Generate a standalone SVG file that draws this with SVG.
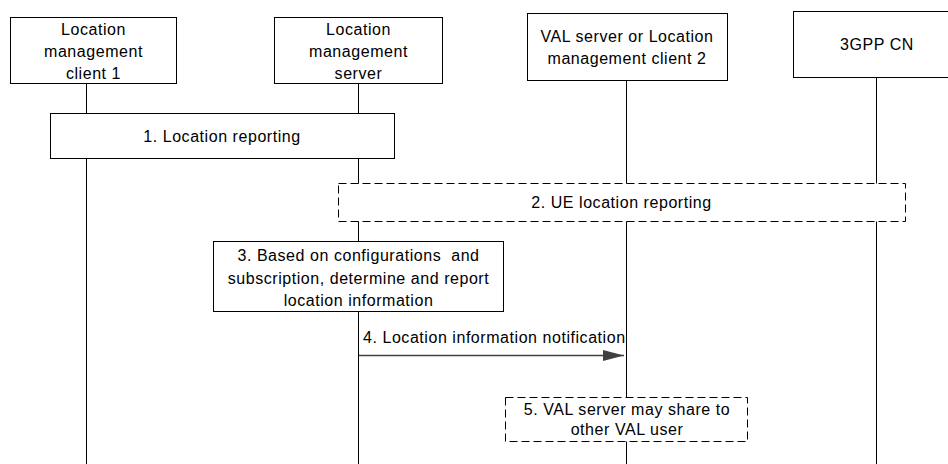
<svg xmlns="http://www.w3.org/2000/svg" width="948" height="464" viewBox="0 0 948 464">
<style>
  .box { fill: #ffffff; stroke: #000000; stroke-width: 1; }
  .dash { fill: #ffffff; stroke: #000000; stroke-width: 1; stroke-dasharray: 8 4; }
  .life { stroke: #000000; stroke-width: 1; fill: none; }
  .msg { stroke: #404040; stroke-width: 1.3; fill: none; }
  text { font-family: "Liberation Sans", Arial, sans-serif; font-size: 16px; letter-spacing: 0.55px; fill: #000000; white-space: pre; }
  .c { text-anchor: middle; }
</style>
<defs>
  <marker id="arrow" markerWidth="22" markerHeight="12" refX="21" refY="6" orient="auto" markerUnits="userSpaceOnUse">
    <polygon points="0,0.5 21,6 0,11.5" fill="#404040"/>
  </marker>
</defs>
<rect width="948" height="464" fill="#ffffff"/>

<g id="lifelines">
  <line class="life" x1="86.5" y1="83" x2="86.5" y2="464"/>
  <line class="life" x1="358.5" y1="83" x2="358.5" y2="464"/>
  <line class="life" x1="626.5" y1="80" x2="626.5" y2="464"/>
  <line class="life" x1="876.5" y1="77" x2="876.5" y2="464"/>
</g>

<g id="node-lmc1">
  <rect class="box" x="10.5" y="17.5" width="166" height="66"/>
  <text class="c" x="93.5" y="35">Location</text>
  <text class="c" x="93.5" y="57">management</text>
  <text class="c" x="93.5" y="79">client 1</text>
</g>
<g id="node-lms">
  <rect class="box" x="274.5" y="17.5" width="168" height="66"/>
  <text class="c" x="358.5" y="35">Location</text>
  <text class="c" x="358.5" y="57">management</text>
  <text class="c" x="358.5" y="79">server</text>
</g>
<g id="node-val">
  <rect class="box" x="527.5" y="13.5" width="200" height="67"/>
  <text class="c" x="627" y="42">VAL server or Location</text>
  <text class="c" x="627" y="64">management client 2</text>
</g>
<g id="node-cn">
  <rect class="box" x="793.5" y="11.5" width="170" height="66"/>
  <text class="c" x="877" y="50">3GPP CN</text>
</g>

<g id="step1">
  <rect class="box" x="50.5" y="113.5" width="344" height="45"/>
  <text class="c" x="222" y="142">1. Location reporting</text>
</g>
<g id="step2">
  <rect class="dash" x="338.5" y="183.5" width="567" height="38"/>
  <text class="c" x="621.5" y="208">2. UE location reporting</text>
</g>
<g id="step3">
  <rect class="box" x="213.5" y="241.5" width="290" height="70"/>
  <text class="c" x="358.5" y="261" xml:space="preserve">3. Based on configurations  and</text>
  <text class="c" x="358.5" y="284">subscription, determine and report</text>
  <text class="c" x="358.5" y="306">location information</text>
</g>

<g id="connectors">
  <line class="msg" x1="359" y1="355.5" x2="624" y2="355.5" marker-end="url(#arrow)"/>
  <text x="363" y="343">4. Location information notification</text>
</g>

<g id="step5">
  <rect class="dash" x="505.5" y="397.5" width="242" height="44"/>
  <text class="c" x="627" y="415">5. VAL server may share to</text>
  <text class="c" x="627" y="435">other VAL user</text>
</g>
</svg>
